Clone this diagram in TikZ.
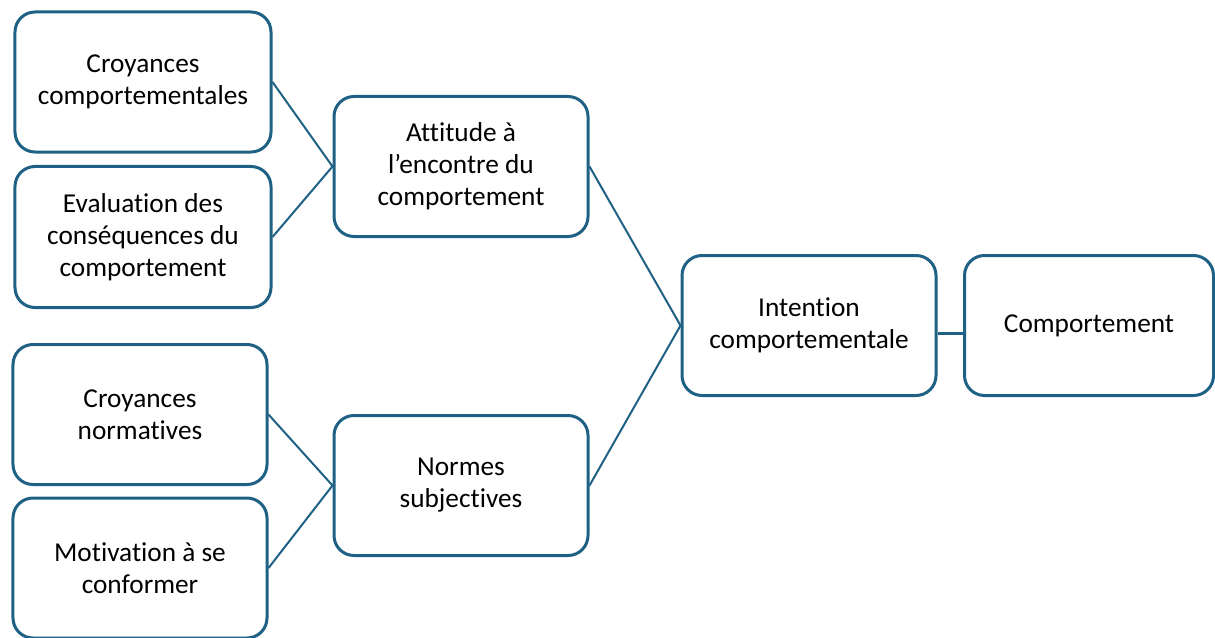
\documentclass[tikz,border=0pt]{standalone}
\usepackage{fontspec}
\setmainfont{Carlito}[Ligatures=NoCommon]
\definecolor{boxblue}{RGB}{31,97,133}
\tikzset{
  bloc/.style={draw=boxblue, line width=1.5bp, rounded corners=10bp, fill=white,
    align=center, inner sep=2bp, font=\fontsize{13.7}{16}\selectfont},
  lien/.style={draw=boxblue, line width=1bp}
}
\begin{document}
\begin{tikzpicture}[x=0.5bp,y=-0.5bp]
\useasboundingbox (0,0) rectangle (1215,637);
\node[bloc, minimum width=128bp, minimum height=70bp] (cc) at (143,82) {Croyances\\comportementales};
\node[bloc, minimum width=128bp, minimum height=70.5bp] (ev) at (143,237) {Evaluation des\\conséquences du\\comportement};
\node[bloc, minimum width=127bp, minimum height=70bp] (cn) at (140,414.5) {Croyances\\normatives};
\node[bloc, minimum width=127bp, minimum height=70bp] (mc) at (140,568) {Motivation à se\\conformer};
\node[bloc, minimum width=127bp, minimum height=70bp] (att) at (461,166.5) {Attitude à\\l’encontre du\\comportement};
\node[bloc, minimum width=127bp, minimum height=70bp] (ns) at (461,485.5) {Normes\\subjectives};
\node[bloc, minimum width=127bp, minimum height=70bp] (ic) at (809,325.5) {Intention\\comportementale};
\node[bloc, minimum width=124.5bp, minimum height=70bp] (co) at (1089,325.5) {Comportement};

\path[lien] (cc.east) -- (att.west);
\path[lien] (ev.east) -- (att.west);
\path[lien] (cn.east) -- (ns.west);
\path[lien] (mc.east) -- (ns.west);
\path[lien] (att.east) -- (ic.west);
\path[lien] (ns.east) -- (ic.west);
\path[lien, line width=1.5bp] ([yshift=-4bp]ic.east) -- ([yshift=-4bp]co.west);
\end{tikzpicture}
\end{document}
